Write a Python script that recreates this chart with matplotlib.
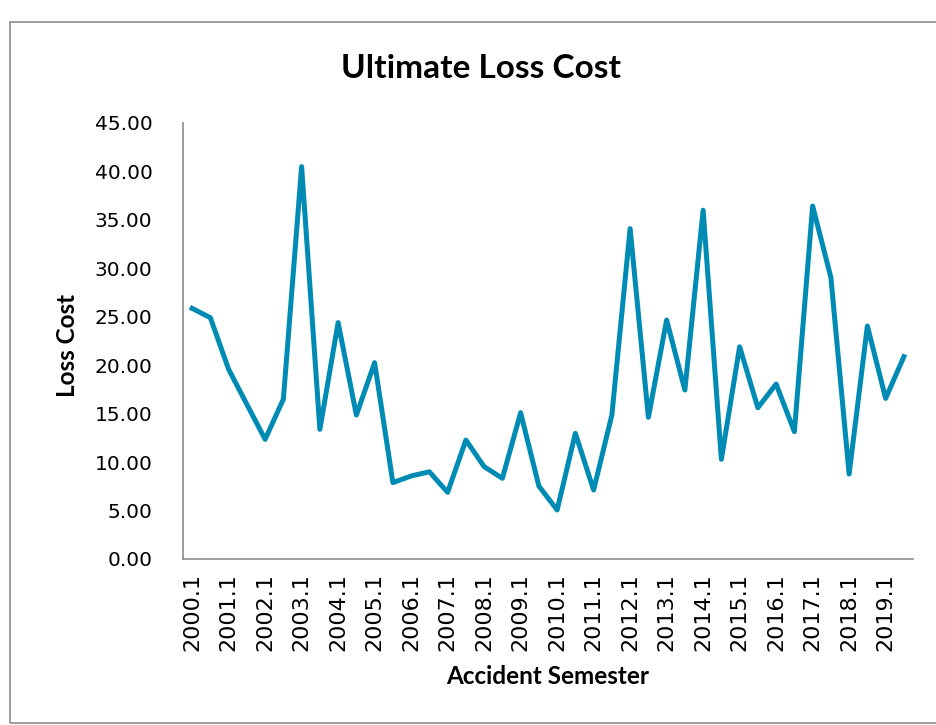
import numpy as np
import matplotlib.pyplot as plt
from matplotlib.patches import Rectangle

# accident semesters 2000.1 .. 2019.2
semesters = [f"{y}.{s}" for y in range(2000, 2020) for s in (1, 2)]
loss_cost = [25.87, 24.90, 19.58, 15.96, 12.35, 16.50, 40.50, 13.38, 24.40, 14.86,
             20.26, 7.88, 8.57, 9.00, 6.88, 12.28, 9.53, 8.33, 15.10, 7.53,
             5.06, 12.97, 7.12, 14.86, 34.10, 14.62, 24.66, 17.44, 36.00, 10.29,
             21.90, 15.61, 18.06, 13.14, 36.43, 29.07, 8.77, 24.05, 16.58, 20.88]
yticks = np.arange(0, 45.01, 5)

plt.rcParams['font.family'] = ['Lato', 'DejaVu Sans']

fig = plt.figure(figsize=(9.37, 7.25), dpi=100)
# outer chart border
fig.patches.append(Rectangle((10 / 937, 1 - 723 / 725), 1.0, (723 - 22) / 725,
                             transform=fig.transFigure, fill=False,
                             edgecolor='#8c8c8c', linewidth=1.2))

ax = fig.add_axes([183 / 937, 1 - 559 / 725, (913 - 183) / 937, (559 - 123) / 725])
x = np.arange(len(semesters))
ax.plot(x, loss_cost, color='#008bb5', linewidth=3.6, solid_joinstyle='round')

ax.set_xlim(-0.5, len(semesters) - 0.5)
ax.set_ylim(0, 45)
ax.set_yticks(yticks)
ax.set_yticklabels([f"{v:.2f}" for v in yticks], fontsize=14.5, family='DejaVu Sans')
ax.set_xticks(x[::2])
ax.set_xticklabels(semesters[::2], rotation=90, fontsize=16, family='DejaVu Sans')
ax.tick_params(axis='y', length=0, pad=22)
ax.tick_params(axis='x', length=0, pad=10)

for s in ('top', 'right'):
    ax.spines[s].set_visible(False)
for s in ('left', 'bottom'):
    ax.spines[s].set_color('#8c8c8c')
    ax.spines[s].set_linewidth(1.2)

fig.text(68 / 937, 1 - 345 / 725, 'Loss Cost', fontsize=17.5, fontweight='bold',
         rotation=90, ha='center', va='center')
fig.text(548 / 937, 1 - 677 / 725, 'Accident Semester', fontsize=17.5,
         fontweight='bold', ha='center', va='center')
fig.text(481 / 937, 1 - 68 / 725, 'Ultimate Loss Cost', fontsize=24,
         fontweight='bold', ha='center', va='center')

fig.savefig('out.png', dpi=100)
